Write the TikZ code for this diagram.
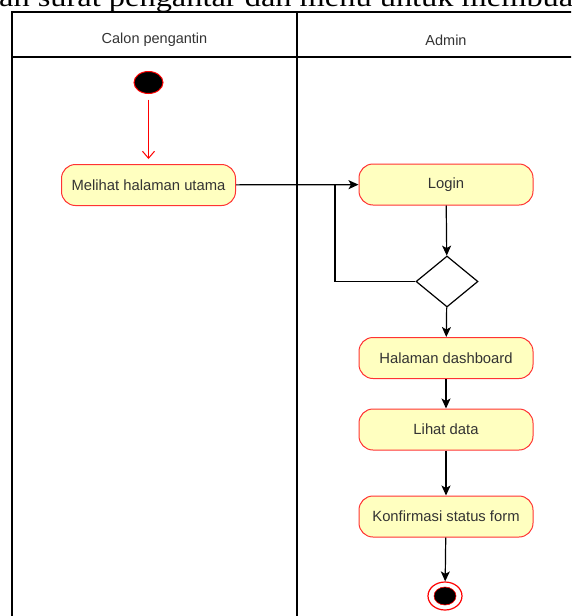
\documentclass[tikz,border=0pt]{standalone}
\usepackage{fontspec}
\setmainfont{Liberation Serif}
\setsansfont{Liberation Sans}
\usetikzlibrary{shapes.geometric,arrows.meta}
\definecolor{actfill}{HTML}{FFFFC0}
\definecolor{actline}{HTML}{FF3333}
\definecolor{txt}{HTML}{333333}
\tikzset{
	act/.style={draw=actline, fill=actfill, line width=1pt, rounded corners=14pt,
		minimum width=174pt, minimum height=41pt, inner sep=0pt,
		font=\sffamily\fontsize{14.8}{17}\selectfont, text=txt},
	head/.style={font=\sffamily\fontsize{14.5}{17}\selectfont, text=txt},
	lane/.style={line width=1.2pt},
	flow/.style={-{Stealth[length=10pt,width=9pt,inset=2.5pt]}, line width=1.2pt},
	init/.style={-{Straight Barb[length=7pt,width=12pt]}, red, line width=1pt,
		shorten <=5.5pt, shorten >=5pt},
	dec/.style={diamond, draw, line width=1.2pt, minimum width=62pt, minimum height=51pt, inner sep=0pt},
	startst/.style={ellipse, draw=red, fill=black, line width=1pt, minimum width=29pt, minimum height=22pt, inner sep=0pt},
	stopst/.style={ellipse, draw=red, fill=white, line width=1.2pt, minimum width=34pt, minimum height=28pt, inner sep=0pt},
	stopdot/.style={ellipse, draw=red, fill=black, line width=0.6pt, minimum width=22pt, minimum height=18pt, inner sep=0pt}
}

\begin{document}
\begin{tikzpicture}[x=1pt,y=-1pt]
	\useasboundingbox (0,0) rectangle (571,616);
	\clip (0,0) rectangle (571,616);

	\node[anchor=base west, inner sep=0pt] (title) at (-1,6.5)
		{\scalebox{1.2}[1]{\fontsize{27}{30}\selectfont an surat pengantar dan menu untuk membuat}};

	\draw[lane] (12,616) -- (12,12) -- (600,12);
	\draw[lane] (12,57) -- (600,57);
	\draw[lane] (297,12) -- (297,616);

	\node[head] (lane1) at (154.5,40) {Calon pengantin};
	\node[head] (lane2) at (446,40) {Admin};

	\node[startst] (start) at (148.5,82.5) {};
	\node[act] (main) at (148.5,185) {Melihat halaman utama};
	\node[act] (login) at (446,184.5) {Login};
	\node[dec] (dec) at (447,281.5) {};
	\node[act] (dash) at (446,358) {Halaman dashboard};
	\node[act] (data) at (446,429.5) {Lihat data};
	\node[act] (konf) at (446,516.5) {Konfirmasi status form};
	\node[stopst] (stop) at (445,596) {};
	\node[stopdot] (stopin) at (stop) {};
	\coordinate (join) at (335,185);

	\draw[init] (start) -- (main);
	\draw[flow] (main) -- (login);
	\draw[line width=1.2pt] (dec.west) -| (join);

	\foreach \a / \b in {login/dec, dec/dash, dash/data, data/konf, konf/stop}
	{
		\draw[flow] (\a) -- (\b);
	};
\end{tikzpicture}
\end{document}
